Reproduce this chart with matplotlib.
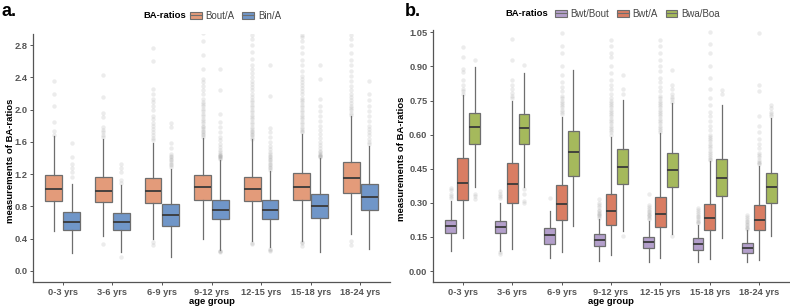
import matplotlib
matplotlib.use("Agg")
import matplotlib.pyplot as plt
from matplotlib.patches import Patch
from matplotlib.lines import Line2D

plt.rcParams['font.family'] = ['Liberation Sans', 'DejaVu Sans']

age_groups = ["0-3 yrs", "3-6 yrs", "6-9 yrs", "9-12 yrs", "12-15 yrs", "15-18 yrs", "18-24 yrs"]

# ---------------- Panel a ----------------
a_series = ["Bout/A", "Bin/A"]
a_colors = ["#E39B7A", "#7096C8"]
# per group: (whislo, q1, med, q3, whishi)
bout_a_stats = [
    (0.49, 0.86, 1.01, 1.19, 1.67),
    (0.43, 0.85, 0.99, 1.16, 1.64),
    (0.39, 0.84, 0.99, 1.15, 1.59),
    (0.39, 0.88, 1.04, 1.19, 1.65),
    (0.37, 0.87, 1.01, 1.17, 1.63),
    (0.37, 0.88, 1.04, 1.21, 1.70),
    (0.45, 0.96, 1.15, 1.35, 1.92),
]
bout_a_fliers = [
    [2.36, 2.20, 2.05, 1.85, 1.74, 1.69],
    [2.43, 2.16, 1.96, 1.91, 1.78, 1.75, 1.72, 1.69, 1.66, 0.33],
    [2.76, 2.61, 2.26, 2.19, 2.13, 2.09, 2.05, 2.00, 1.92, 1.88, 1.84, 1.80, 1.76, 1.72, 1.68, 1.65, 1.62, 0.36, 0.32],
    [2.95, 2.85, 2.68, 2.50, 2.38, 2.34, 2.30, 2.25, 2.20, 2.13, 2.10, 2.07, 2.04, 2.01, 1.98, 1.95, 1.92, 1.89,
     1.86, 1.83, 1.80, 1.78, 1.76, 1.74, 1.72, 1.70, 1.68, 1.66],
    [2.93, 2.88, 2.80, 2.72, 2.63, 2.55, 2.50, 2.45, 2.40, 2.36, 2.32, 2.28, 2.24, 2.20, 2.16, 2.12, 2.09, 2.06,
     2.03, 2.00, 1.97, 1.94, 1.91, 1.88, 1.85, 1.82, 1.79, 1.76, 1.74, 1.72, 1.70, 1.68, 1.66, 1.64, 0.35, 0.33],
    [2.93, 2.90, 2.85, 2.78, 2.70, 2.62, 2.55, 2.48, 2.42, 2.38, 2.35, 2.31, 2.27, 2.23, 2.19, 2.15, 2.12, 2.09,
     2.06, 2.03, 2.00, 1.97, 1.94, 1.91, 1.88, 1.85, 1.82, 1.79, 1.76, 1.74, 1.72, 0.36, 0.34, 0.31],
    [2.93, 2.88, 2.80, 2.70, 2.62, 2.55, 2.48, 2.42, 2.36, 2.30, 2.25, 2.20, 2.16, 2.12, 2.08, 2.05, 2.02, 1.99,
     1.96, 1.94, 0.37, 0.32],
]
bin_a_stats = [
    (0.22, 0.50, 0.61, 0.73, 1.08),
    (0.23, 0.51, 0.61, 0.72, 1.07),
    (0.17, 0.55, 0.69, 0.83, 1.26),
    (0.26, 0.64, 0.76, 0.875, 1.38),
    (0.29, 0.64, 0.75, 0.875, 1.24),
    (0.23, 0.66, 0.80, 0.95, 1.40),
    (0.27, 0.75, 0.91, 1.08, 1.55),
]
bin_a_fliers = [
    [1.59, 1.41, 1.33, 1.28, 1.22, 1.17],
    [1.32, 1.28, 1.22, 1.13, 1.09, 0.17],
    [1.83, 1.79, 1.59, 1.53, 1.45, 1.43, 1.41, 1.39, 1.37, 1.35, 1.33, 1.31, 1.29],
    [2.50, 2.25, 1.95, 1.85, 1.78, 1.72, 1.66, 1.62, 1.58, 1.54, 1.50, 1.47, 1.45, 1.44, 1.43, 1.42, 1.41,
     1.40, 1.39, 0.25, 0.24, 0.23],
    [2.56, 2.17, 1.77, 1.72, 1.66, 1.60, 1.55, 1.51, 1.47, 1.45, 1.43, 1.41, 1.39, 1.37, 1.35, 1.33, 1.31,
     1.29, 1.27, 1.25, 0.275, 0.26, 0.25],
    [2.56, 2.38, 2.13, 2.05, 1.98, 1.92, 1.86, 1.80, 1.75, 1.70, 1.65, 1.60, 1.56, 1.52, 1.49, 1.47, 1.45,
     1.44, 1.43, 1.42, 1.41],
    [2.36, 2.20, 2.12, 2.05, 1.98, 1.92, 1.86, 1.80, 1.76, 1.72, 1.68, 1.64, 1.60, 1.57],
]
a_yticks = [0.0, 0.4, 0.8, 1.2, 1.6, 2.0, 2.4, 2.8]

# ---------------- Panel b ----------------
b_series = ["Bwt/Bout", "Bwt/A", "Bwa/Boa"]
b_colors = ["#B39FCB", "#D97D63", "#A5B95C"]
bwt_bout_stats = [
    (0.088, 0.166, 0.199, 0.224, 0.31),
    (0.090, 0.169, 0.196, 0.220, 0.30),
    (0.056, 0.117, 0.157, 0.190, 0.264),
    (0.044, 0.110, 0.135, 0.161, 0.227),
    (0.041, 0.103, 0.129, 0.151, 0.220),
    (0.041, 0.091, 0.120, 0.144, 0.202),
    (0.041, 0.081, 0.103, 0.125, 0.179),
]
bwt_bout_fliers = [
    [0.367, 0.355, 0.34, 0.33, 0.32],
    [0.35, 0.34, 0.33, 0.32, 0.085, 0.076],
    [0.32],
    [0.315, 0.30, 0.29, 0.28, 0.27, 0.262, 0.255, 0.25, 0.245, 0.24, 0.235],
    [0.337, 0.29, 0.28, 0.272, 0.265, 0.258, 0.252, 0.246, 0.24, 0.235, 0.23],
    [0.279, 0.27, 0.26, 0.25, 0.243, 0.236, 0.229, 0.222, 0.215, 0.21],
    [0.245, 0.238, 0.23, 0.222, 0.215, 0.208, 0.201, 0.195, 0.189, 0.184],
]
bwt_a_stats = [
    (0.144, 0.312, 0.387, 0.499, 0.774),
    (0.097, 0.298, 0.381, 0.477, 0.75),
    (0.085, 0.224, 0.296, 0.377, 0.678),
    (0.069, 0.202, 0.264, 0.340, 0.59),
    (0.059, 0.195, 0.252, 0.326, 0.605),
    (0.054, 0.179, 0.235, 0.296, 0.484),
    (0.050, 0.180, 0.226, 0.289, 0.462),
]
bwt_a_fliers = [
    [0.987, 0.94, 0.89, 0.875, 0.84, 0.82, 0.80, 0.79, 0.78],
    [1.02, 0.928, 0.84, 0.82, 0.80, 0.785, 0.77, 0.76],
    [1.046, 0.99, 0.96, 0.90, 0.86, 0.83, 0.81, 0.79, 0.77, 0.76, 0.75, 0.74, 0.73, 0.72, 0.71, 0.70, 0.69],
    [1.016, 0.99, 0.96, 0.94, 0.90, 0.87, 0.84, 0.82, 0.80, 0.78, 0.76, 0.75, 0.74, 0.73, 0.72, 0.71,
     0.70, 0.69, 0.68, 0.67, 0.66, 0.65, 0.64, 0.63, 0.62, 0.61, 0.60],
    [1.016, 0.99, 0.96, 0.93, 0.90, 0.88, 0.85, 0.83, 0.81, 0.79, 0.77, 0.76, 0.75, 0.74, 0.73, 0.72,
     0.71, 0.70, 0.69, 0.68, 0.67, 0.66, 0.65, 0.64, 0.63, 0.62, 0.61],
    [1.05, 1.00, 0.96, 0.90, 0.85, 0.80, 0.76, 0.73, 0.70, 0.68, 0.66, 0.64, 0.62, 0.60, 0.59, 0.58,
     0.57, 0.56, 0.55, 0.54, 0.53, 0.52, 0.51, 0.50, 0.495, 0.49],
    [1.045, 0.82, 0.79, 0.68, 0.64, 0.61, 0.58, 0.56, 0.54, 0.52, 0.51, 0.50, 0.49, 0.48, 0.475, 0.47],
]
bwa_boa_stats = [
    (0.371, 0.558, 0.633, 0.696, 0.899),
    (0.37, 0.560, 0.627, 0.689, 0.87),
    (0.198, 0.418, 0.523, 0.615, 0.884),
    (0.176, 0.384, 0.459, 0.535, 0.752),
    (0.161, 0.371, 0.444, 0.519, 0.737),
    (0.147, 0.330, 0.408, 0.494, 0.73),
    (0.154, 0.298, 0.370, 0.430, 0.672),
]
bwa_boa_fliers = [
    [0.928, 0.34, 0.33, 0.318],
    [0.906, 0.36, 0.34, 0.31, 0.30],
    [],
    [0.862, 0.80, 0.78, 0.154],
    [0.884, 0.82, 0.80, 0.78, 0.765, 0.755, 0.745, 0.154],
    [0.796, 0.78],
    [0.73, 0.715, 0.70, 0.69, 0.68],
]
b_yticks = [0.00, 0.15, 0.30, 0.45, 0.60, 0.75, 0.90, 1.05]


def make_stats(stats, fliers):
    out = []
    for (lo, q1, med, q3, hi), fl in zip(stats, fliers):
        out.append(dict(whislo=lo, q1=q1, med=med, q3=q3, whishi=hi, fliers=fl))
    return out


W, H = 790, 308
fig = plt.figure(figsize=(W / 100, H / 100), dpi=100)

A_L, A_R, B_L, B_R, BOT, A_TOP, B_TOP = 33, 390, 433, 789, 282, 34, 30
axa = fig.add_axes([A_L / W, (H - BOT) / H, (A_R - A_L) / W, (BOT - A_TOP) / H])
axb = fig.add_axes([B_L / W, (H - BOT) / H, (B_R - B_L) / W, (BOT - B_TOP) / H])

edge = "#6e6e6e"
med_c = "#3a3a3a"
tick_c = "#555555"
flier_props = dict(marker='o', markersize=3.2, markerfacecolor='#8a8a8a', markeredgecolor='none', alpha=0.16)


def draw_panel(ax, series_stats, series_fliers, colors, offsets, width, top_px):
    for k, (st, fl) in enumerate(zip(series_stats, series_fliers)):
        pos = [i + offsets[k] for i in range(len(age_groups))]
        bp = ax.bxp(make_stats(st, fl), positions=pos, widths=width, patch_artist=True,
                    showcaps=False, flierprops=flier_props,
                    boxprops=dict(edgecolor=edge, linewidth=0.9),
                    whiskerprops=dict(color=edge, linewidth=0.9),
                    medianprops=dict(color=med_c, linewidth=1.3))
        for b in bp['boxes']:
            b.set_facecolor(colors[k])
    ax.set_xlim(-0.6, 6.6)
    ax.set_xticks(range(len(age_groups)))
    ax.set_xticklabels(age_groups)
    for s in ['top', 'right']:
        ax.spines[s].set_visible(False)
    for s in ['left', 'bottom']:
        ax.spines[s].set_color(tick_c)
        ax.spines[s].set_linewidth(0.9)
    ax.tick_params(axis='both', labelsize=6.7, colors=tick_c, length=2.5, width=0.7, pad=1.5)
    ax.set_xlabel("age group", fontsize=6.8, fontweight='bold')
    ax.set_ylabel("measurements of BA-ratios", fontsize=6.8, fontweight='bold')
    hpx = BOT - top_px
    ax.xaxis.label.set_va('center')
    ax.xaxis.set_label_coords(0.5, -19.5 / hpx)


draw_panel(axa, [bout_a_stats, bin_a_stats], [bout_a_fliers, bin_a_fliers], a_colors, [-0.18, 0.18], 0.34,
           A_TOP)
axa.set_ylim(-0.14, 2.94)
axa.set_yticks(a_yticks)
axa.set_yticklabels([f"{v:.1f}" for v in a_yticks])
axa.yaxis.label.set_va('center')
axa.yaxis.set_label_coords((11 - A_L) / (A_R - A_L), 0.49)

draw_panel(axb, [bwt_bout_stats, bwt_a_stats, bwa_boa_stats],
           [bwt_bout_fliers, bwt_a_fliers, bwa_boa_fliers], b_colors, [-0.24, 0.0, 0.24], 0.22,
           B_TOP)
axb.set_ylim(-0.048, 1.06)
axb.set_yticks(b_yticks)
axb.set_yticklabels([f"{v:.2f}" for v in b_yticks])
axb.yaxis.label.set_va('center')
axb.yaxis.set_label_coords((402 - B_L) / (B_R - B_L), 0.49)

for ax in (axa, axb):
    for lab in ax.get_xticklabels() + ax.get_yticklabels():
        lab.set_color(tick_c)
        lab.set_fontweight('bold')

# panel tags
fig.text(2 / W, 1 - 12 / H, "a.", fontsize=13, fontweight='bold', va='center', ha='left')
fig.text(405 / W, 1 - 12 / H, "b.", fontsize=13, fontweight='bold', va='center', ha='left')


def legend_handles(colors):
    hs = []
    for c in colors:
        hs.append((Patch(facecolor=c, edgecolor=edge, linewidth=0.8),
                   Line2D([], [], color=edge, linewidth=0.8)))
    return hs


fig.text(143 / W, 1 - 16 / H, "BA-ratios", fontsize=6.8, fontweight='bold', va='center', ha='left')
fig.legend(legend_handles(a_colors), a_series, loc='center left', bbox_to_anchor=(190 / W, 1 - 16 / H),
           ncol=2, frameon=False, fontsize=7, handlelength=1.2, handleheight=0.8, handletextpad=0.4,
           columnspacing=0.8, borderpad=0, borderaxespad=0, labelcolor='#444444')

fig.text(505 / W, 1 - 14 / H, "BA-ratios", fontsize=6.8, fontweight='bold', va='center', ha='left')
fig.legend(legend_handles(b_colors), b_series, loc='center left', bbox_to_anchor=(555 / W, 1 - 14 / H),
           ncol=3, frameon=False, fontsize=7, handlelength=1.2, handleheight=0.8, handletextpad=0.4,
           columnspacing=0.8, borderpad=0, borderaxespad=0, labelcolor='#444444')

fig.savefig("out.png", dpi=100)
